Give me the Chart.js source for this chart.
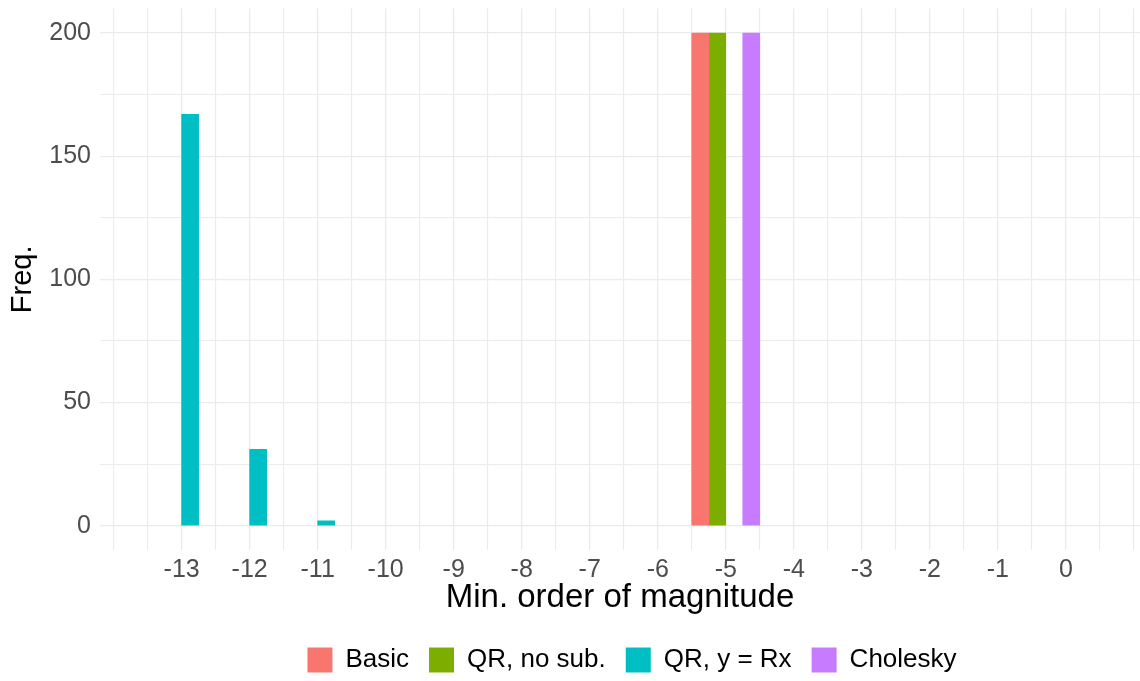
<!DOCTYPE html>
<html>
<head>
<meta charset="utf-8">
<title>Min. order of magnitude</title>
<script src="https://cdn.jsdelivr.net/npm/chart.js@4.4.1/dist/chart.umd.min.js"></script>
<style>
  html, body { margin: 0; padding: 0; background: #fff; }
  #chart { display: block; }
</style>
</head>
<body>
<canvas id="chart" width="1140" height="681"></canvas>
<script>
// Series (x = min. order of magnitude, y = frequency)
const METHODS = ['Basic', 'QR, no sub.', 'QR, y = Rx', 'Cholesky'];
const COLORS = ['#F8766D', '#7CAE00', '#00BFC4', '#C77CFF'];

const BASIC_X = [-5];
const BASIC_Y = [200];
const QR_NOSUB_X = [-5];
const QR_NOSUB_Y = [200];
const QR_RX_X = [-13, -12, -11];
const QR_RX_Y = [167, 31, 2];
const CHOL_X = [-5];
const CHOL_Y = [200];

// Axis breaks
const X_BREAKS = [-13, -12, -11, -10, -9, -8, -7, -6, -5, -4, -3, -2, -1, 0];
const Y_BREAKS = [0, 50, 100, 150, 200];

const FONT = 'Liberation Sans, Arial, Helvetica, sans-serif';
const GRID = '#EBEBEB';

const X_MIN = -14.2, X_MAX = 1.09;
const Y_MIN = -10, Y_MAX = 210;

// minor grid lines half way between breaks (and one step outside), like ggplot
function minorBreaks(b, lo, hi) {
  const step = b[1] - b[0];
  const ext = [b[0] - step, ...b, b[b.length - 1] + step];
  const out = [ext[0], ext[ext.length - 1]];
  for (let i = 0; i < ext.length - 1; i++) out.push(ext[i] + step / 2);
  return out.filter(v => !b.includes(v) && v >= lo && v <= hi).sort((a, c) => a - c);
}
const X_MINOR = minorBreaks(X_BREAKS, X_MIN, X_MAX);
const Y_MINOR = minorBreaks(Y_BREAKS, Y_MIN, Y_MAX);

function toPoints(xs, ys) {
  return xs.map((x, i) => ({ x: x, y: ys[i] }));
}

const series = [
  toPoints(BASIC_X, BASIC_Y),
  toPoints(QR_NOSUB_X, QR_NOSUB_Y),
  toPoints(QR_RX_X, QR_RX_Y),
  toPoints(CHOL_X, CHOL_Y)
];

const datasets = METHODS.map((name, i) => ({
  label: name,
  data: series[i],
  backgroundColor: COLORS[i],
  borderWidth: 0,
  barPercentage: 1,
  categoryPercentage: 1
}));

const setTicks = list => scale => { scale.ticks = list.map(v => ({ value: v })); };
const noPad = s => { s.paddingTop = 0; s.paddingBottom = 0; s.paddingLeft = 0; s.paddingRight = 0; };

// ggplot centres the legend a bit to the right of the canvas centre
const legendNudge = {
  id: 'legendNudge',
  afterLayout(chart) {
    const l = chart.legend;
    l.left += 12; l.right += 12;
    l.top += 2; l.bottom += 2;
  }
};

new Chart(document.getElementById('chart').getContext('2d'), {
  type: 'bar',
  data: { datasets: datasets },
  plugins: [legendNudge],
  options: {
    responsive: false,
    animation: false,
    devicePixelRatio: 1,
    layout: { padding: { top: 8.4, left: 0, right: 0, bottom: 0 } },
    plugins: {
      tooltip: { enabled: false },
      legend: {
        position: 'bottom',
        fullSize: false,
        labels: {
          boxWidth: 25,
          boxHeight: 25,
          padding: 20,
          color: '#000',
          font: { family: FONT, size: 26 }
        }
      }
    },
    scales: {
      x: {
        type: 'linear',
        position: 'bottom',
        min: X_MIN,
        max: X_MAX,
        offset: false,
        border: { display: false },
        grid: { color: GRID, lineWidth: 1.3, drawTicks: false, offset: false },
        afterBuildTicks: setTicks(X_BREAKS),
        afterFit: s => { noPad(s); s.height = 74.6; },
        ticks: {
          autoSkip: false,
          maxRotation: 0,
          padding: 5,
          color: '#4D4D4D',
          font: { family: FONT, size: 25 },
          callback: v => String(v)
        },
        title: {
          display: true,
          text: 'Min. order of magnitude',
          color: '#000',
          font: { family: FONT, size: 33 },
          padding: { top: 0, bottom: 7 }
        }
      },
      xMinor: {
        type: 'linear',
        position: 'bottom',
        min: X_MIN,
        max: X_MAX,
        offset: false,
        border: { display: false },
        grid: { color: GRID, lineWidth: 1.1, drawTicks: false, offset: false },
        afterBuildTicks: setTicks(X_MINOR),
        afterFit: s => { noPad(s); s.height = 0; },
        ticks: { display: false }
      },
      y: {
        type: 'linear',
        position: 'left',
        min: Y_MIN,
        max: Y_MAX,
        border: { display: false },
        grid: { color: GRID, lineWidth: 1.3, drawTicks: false },
        afterBuildTicks: setTicks(Y_BREAKS),
        afterFit: s => { noPad(s); s.width = 100; },
        ticks: {
          padding: 9,
          color: '#4D4D4D',
          font: { family: FONT, size: 25 },
          callback: v => String(v)
        },
        title: {
          display: true,
          text: 'Freq.',
          color: '#000',
          font: { family: FONT, size: 29 },
          padding: { top: 6, bottom: 0 }
        }
      },
      yMinor: {
        type: 'linear',
        position: 'left',
        min: Y_MIN,
        max: Y_MAX,
        border: { display: false },
        grid: { color: GRID, lineWidth: 1.1, drawTicks: false },
        afterBuildTicks: setTicks(Y_MINOR),
        afterFit: s => { noPad(s); s.width = 0; },
        ticks: { display: false }
      }
    }
  }
});
</script>
</body>
</html>
